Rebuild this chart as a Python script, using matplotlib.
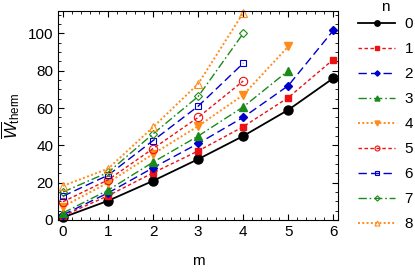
import matplotlib
matplotlib.use("Agg")
import matplotlib.pyplot as plt
from matplotlib.ticker import MultipleLocator

plt.rcParams['font.family'] = ['Liberation Sans', 'DejaVu Sans']
plt.rcParams['mathtext.fontset'] = 'custom'
plt.rcParams['mathtext.rm'] = 'Liberation Sans'
plt.rcParams['mathtext.it'] = 'Liberation Sans:italic'

m = [0, 1, 2, 3, 4, 5, 6]
w0 = [1.4, 10.3, 21.0, 32.6, 45.0, 59.0, 76.0]
w1 = [2.2, 13.0, 25.3, 37.0, 50.0, 65.6, 86.0]
w2 = [2.8, 14.5, 28.0, 41.0, 55.0, 72.0, 101.6]
w3 = [3.8, 16.0, 31.0, 45.0, 60.6, 80.0]
w4 = [7.2, 20.0, 35.4, 50.3, 67.0, 93.0]
w5 = [9.8, 21.5, 38.3, 55.0, 74.5]
w6 = [12.8, 24.0, 42.6, 61.0, 84.0]
w7 = [15.0, 25.5, 46.2, 66.2, 100.0]
w8 = [18.3, 27.5, 49.8, 73.0, 111.0]
series = [w0, w1, w2, w3, w4, w5, w6, w7, w8]
labels = ['0', '1', '2', '3', '4', '5', '6', '7', '8']

red = '#ee1111'
blue = '#0000cc'
green = '#1a8a1a'
orange = '#ff8c1a'
styles = [
    dict(color='black', ls='-', marker='o', mfc='black', ms=6.5, lw=1.3),
    dict(color=red, ls=(0, (2.5, 1.8)), marker='s', mfc=red, ms=5, lw=1.0),
    dict(color=blue, ls=(0, (6, 3)), marker='D', mfc=blue, ms=4.5, lw=1.0),
    dict(color=green, ls=(0, (6, 2, 1.2, 2)), marker='^', mfc=green, ms=6, lw=1.0),
    dict(color=orange, ls=(0, (1, 1.2)), marker='v', mfc=orange, ms=6, lw=1.4),
    dict(color=red, ls=(0, (2.5, 1.8)), marker='o', mfc='none', ms=6, lw=1.0, mew=0.8),
    dict(color=blue, ls=(0, (6, 3)), marker='s', mfc='none', ms=5, lw=1.0, mew=0.8),
    dict(color=green, ls=(0, (6, 2, 1.2, 2)), marker='D', mfc='none', ms=4.5, lw=1.0, mew=0.8),
    dict(color=orange, ls=(0, (1, 1.2)), marker='^', mfc='none', ms=6, lw=1.4, mew=0.8),
]

fig = plt.figure(figsize=(4.15, 2.79), dpi=100)
ax = fig.add_axes([0.140, 0.2115, 0.674, 0.749])

for s, lab, st in zip(series, labels, styles):
    st = dict(st)
    c = st.pop('color')
    ax.plot(m[:len(s)], s, color=c, mec=c, label=lab, clip_on=False, **st)

ax.set_xlim(-0.11, 6.1)
ax.set_ylim(0, 112)
ax.xaxis.set_major_locator(MultipleLocator(1))
ax.xaxis.set_minor_locator(MultipleLocator(0.2))
ax.yaxis.set_major_locator(MultipleLocator(20))
ax.yaxis.set_minor_locator(MultipleLocator(5))
ax.tick_params(which='both', direction='in', top=True, right=True, labelsize=11)
ax.tick_params(which='major', length=4, width=0.8)
ax.tick_params(which='minor', length=2, width=0.6)
for sp in ax.spines.values():
    sp.set_linewidth(0.8)

ax.set_xlabel('m', fontsize=11, labelpad=11)
ax.set_ylabel(r'$\overline{W}_{\mathrm{therm}}$', fontsize=12, labelpad=4)

leg = fig.legend(loc='upper left', bbox_to_anchor=(358 / 415, 1 - 17 / 279),
                 frameon=False, fontsize=11,
                 handlelength=2.45, handletextpad=0.6, labelspacing=0.72,
                 markerscale=0.6, borderaxespad=0, borderpad=0)
fig.text(385 / 415, 1 - 7 / 279, 'n', ha='center', va='center', fontsize=11)

fig.savefig('out.png', dpi=100)
